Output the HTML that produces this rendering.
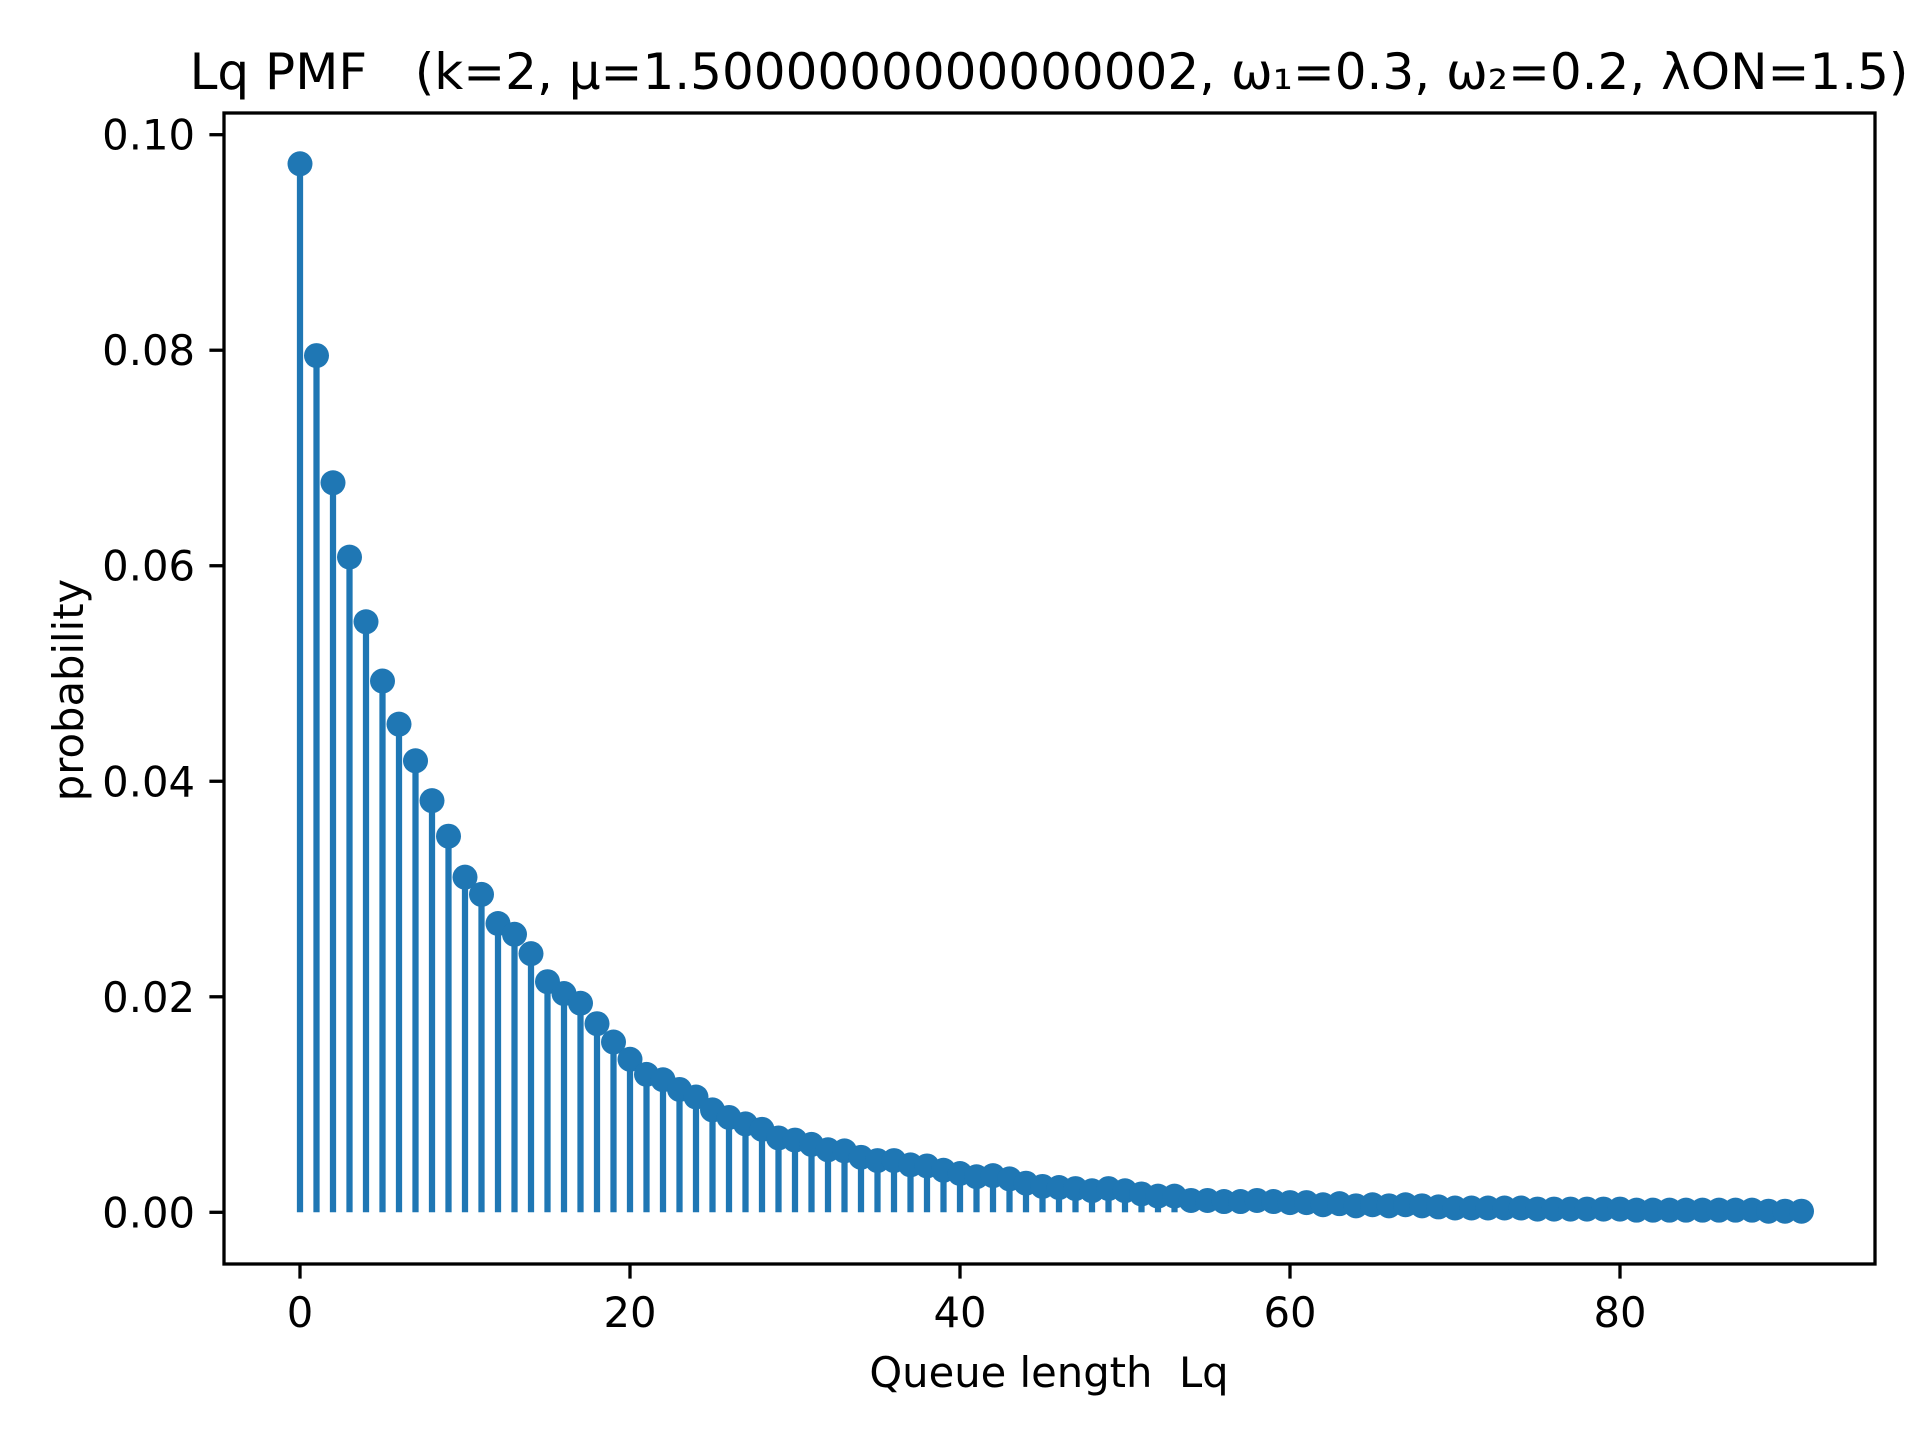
<!DOCTYPE html>
<html><head><meta charset="utf-8"><style>
html,body{margin:0;padding:0;background:#fff;}
svg text{font-family:"DejaVu Sans","Liberation Sans",sans-serif;fill:#000;white-space:pre;}
</style></head><body>
<svg id="chart" width="1920" height="1440" viewBox="0 0 1920 1440" xmlns="http://www.w3.org/2000/svg" xml:space="preserve">
<rect x="0" y="0" width="1920" height="1440" fill="#fff"/>
<g id="plot"></g>
<rect x="224" y="113" width="1651" height="1151" fill="none" stroke="#000" stroke-width="3.3"/>
<g id="xticks"></g><g id="yticks"></g>
<text x="1049" y="89" font-size="50" text-anchor="middle">Lq PMF   (k=2, μ=1.5000000000000002, ω₁=0.3, ω₂=0.2, λON=1.5)</text>
<text x="1049" y="1387" font-size="41.7" text-anchor="middle">Queue length  Lq</text>
<text transform="translate(83,690) rotate(-90)" font-size="41.7" text-anchor="middle">probability</text>
</svg>
<script>
const categories = [];
for (let i = 0; i <= 91; i++) categories.push(i);
const probabilities = [0.0973,0.0795,0.0677,0.0608,0.0548,0.0493,0.0453,0.0419,0.0382,0.0349,
0.0311,0.0295,0.0268,0.0258,0.0240,0.0214,0.0203,0.0194,0.0175,0.0158,
0.0142,0.0128,0.0123,0.0114,0.0107,0.0095,0.0088,0.0082,0.0077,0.0069,
0.0067,0.0063,0.0058,0.0057,0.0051,0.0048,0.0048,0.0044,0.0043,0.0039,
0.0036,0.0033,0.0034,0.0031,0.0027,0.0024,0.0023,0.0022,0.0020,0.0022,
0.0020,0.0017,0.0015,0.0015,0.0011,0.0011,0.0010,0.0010,0.0011,0.0010,
0.0009,0.0009,0.0007,0.0008,0.0006,0.0007,0.0006,0.0007,0.0006,0.0005,
0.0004,0.0004,0.0004,0.0004,0.0004,0.0003,0.0003,0.0003,0.0003,0.0003,
0.0003,0.0002,0.0002,0.0002,0.0002,0.0002,0.0002,0.0002,0.0002,0.0001,
0.0001,0.0001];
const xTickValues = [0,20,40,60,80];
const yTickValues = [0,0.02,0.04,0.06,0.08,0.10];
const yTickLabels = ["0.00","0.02","0.04","0.06","0.08","0.10"];

const NS = "http://www.w3.org/2000/svg";
const xScale = v => 300 + v * 16.5;
const yScale = v => 1212.3 - v * 10776;
function mk(tag, attrs, parent){const e=document.createElementNS(NS,tag);for(const k in attrs)e.setAttribute(k,attrs[k]);parent.appendChild(e);return e;}
const plot = document.getElementById('plot');
categories.forEach((c,i)=>{
  const l = mk('line',{x1:xScale(c),x2:xScale(c),y1:yScale(0),y2:yScale(probabilities[i]),stroke:'#1f77b4','stroke-width':6.25},plot);
  
  
});
categories.forEach((c,i)=>{
  const d = mk('circle',{cx:xScale(c),cy:yScale(probabilities[i]),r:12.5,fill:'#1f77b4'},plot);
  
  
});
const xt = document.getElementById('xticks');
xTickValues.forEach(v=>{
  const t = mk('line',{x1:xScale(v),x2:xScale(v),y1:1264,y2:1278.6,stroke:'#000','stroke-width':3.3},xt);
  
  
  const tx = mk('text',{x:xScale(v),y:1327,'font-size':41.7,'text-anchor':'middle'},xt);
  tx.textContent = String(v);
  
  
});
const yt = document.getElementById('yticks');
yTickValues.forEach((v,i)=>{
  const t = mk('line',{x1:209.4,x2:224,y1:yScale(v),y2:yScale(v),stroke:'#000','stroke-width':3.3},yt);
  
  
  const tx = mk('text',{x:195,y:yScale(v)+15,'font-size':41.7,'text-anchor':'end'},yt);
  tx.textContent = yTickLabels[i];
  
  
});
</script>
</body></html>
